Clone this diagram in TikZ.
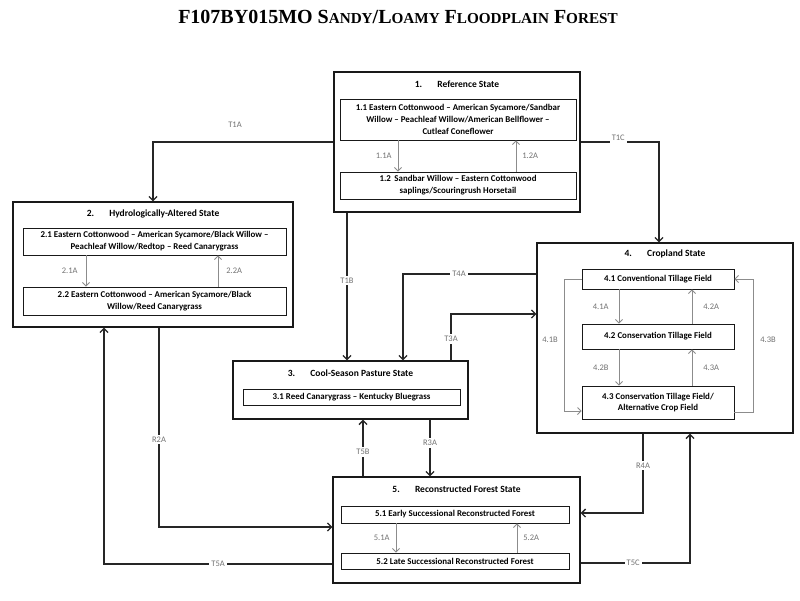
\documentclass[tikz,border=0pt]{standalone}
\usepackage{fontspec}
\setmainfont{Carlito}
\newfontfamily\titlefont{Liberation Serif}
\usetikzlibrary{arrows.meta}
\tikzset{
  box/.style={draw=black!90, rectangle, inner sep=0pt, line width=1.3pt},
  sub/.style={draw=black!90, rectangle, inner sep=1pt, line width=0.9pt, align=center,
    font=\fontsize{8.9}{11.8}\selectfont\bfseries},
  ttl/.style={font=\fontsize{9.5}{11}\selectfont\bfseries},
  conn/.style={line width=1.3pt, draw=black!85, -{Straight Barb[length=4pt,width=8pt]}},
  inarr/.style={line width=0.8pt, draw=black!45, -{Straight Barb[length=3.5pt,width=7pt]}},
  lbl/.style={font=\fontsize{8.5}{10}\selectfont, text=black!55, fill=white, inner sep=2pt},
  lbln/.style={font=\fontsize{8.5}{10}\selectfont, text=black!55, inner sep=1pt}
}
\newcommand{\smc}[1]{{\fontsize{15.2}{18}\selectfont #1}}
\begin{document}
\begin{tikzpicture}[x=1pt,y=-1pt]
\useasboundingbox[fill=white] (0,0) rectangle (800,600);

% title
\node[font=\titlefont\bfseries\fontsize{20}{23}\selectfont] (title) at (398,17)
  {F107BY015MO S\smc{ANDY}/L\smc{OAMY} F\smc{LOODPLAIN} F\smc{OREST}};

% ---------- State 1 ----------
\node[box, minimum width=246pt, minimum height=140pt] (s1) at (457,142) {};
\node[ttl] (t1) at (457,84) {1.\hspace{1.6em}Reference State};
\node[sub, minimum width=236pt, minimum height=41pt] (n11) at (458,119.5)
  {1.1 Eastern Cottonwood -- American Sycamore/Sandbar\\Willow -- Peachleaf Willow/American Bellflower --\\Cutleaf Coneflower};
\node[sub, minimum width=236pt, minimum height=27pt] (n12) at (458,185.5)
  {1.2\, Sandbar Willow -- Eastern Cottonwood\\saplings/Scouringrush Horsetail};
\draw[inarr] ([xshift=-60]n11.south) -- ([xshift=-60]n12.north)
  node[lbln, midway, left=5pt] (l11a) {1.1A};
\draw[inarr] ([xshift=58]n12.north) -- ([xshift=58]n11.south)
  node[lbln, midway, right=5pt] (l12a) {1.2A};

% ---------- State 2 ----------
\node[box, minimum width=280pt, minimum height=125pt] (s2) at (153,264.5) {};
\node[ttl] (t2) at (153,214) {2.\hspace{1.6em}Hydrologically-Altered State};
\node[sub, minimum width=263pt, minimum height=27pt] (n21) at (154.5,241.5)
  {2.1 Eastern Cottonwood -- American Sycamore/Black Willow --\\Peachleaf Willow/Redtop -- Reed Canarygrass};
\node[sub, minimum width=263pt, minimum height=28pt] (n22) at (154.5,301)
  {2.2 Eastern Cottonwood -- American Sycamore/Black\\Willow/Reed Canarygrass};
\draw[inarr] ([xshift=-68.5]n21.south) -- ([xshift=-68.5]n22.north)
  node[lbln, midway, left=7pt] (l21a) {2.1A};
\draw[inarr] ([xshift=63.5]n22.north) -- ([xshift=63.5]n21.south)
  node[lbln, midway, right=7pt] (l22a) {2.2A};

% ---------- State 3 ----------
\node[box, minimum width=235pt, minimum height=58pt] (s3) at (350.5,390) {};
\node[ttl] (t3) at (350.5,373) {3.\hspace{1.6em}Cool-Season Pasture State};
\node[sub, minimum width=217pt, minimum height=16pt] (n31) at (351.5,397)
  {3.1 Reed Canarygrass -- Kentucky Bluegrass};

% ---------- State 4 ----------
\node[box, minimum width=256pt, minimum height=190pt] (s4) at (665,338) {};
\node[ttl] (t4) at (665,254) {4.\hspace{1.6em}Cropland State};
\node[sub, minimum width=152pt, minimum height=20pt] (n41) at (658,279)
  {4.1 Conventional Tillage Field};
\node[sub, minimum width=152pt, minimum height=25pt] (n42) at (658,336.5)
  {4.2 Conservation Tillage Field};
\node[sub, minimum width=152pt, minimum height=33pt] (n43) at (658,402.5)
  {4.3 Conservation Tillage Field/\\Alternative Crop Field};
\draw[inarr] ([xshift=-39]n41.south) -- ([xshift=-39]n42.north)
  node[lbln, midway, left=9pt] (l41a) {4.1A};
\draw[inarr] ([xshift=34]n42.north) -- ([xshift=34]n41.south)
  node[lbln, midway, right=10pt] (l42a) {4.2A};
\draw[inarr] ([xshift=-39]n42.south) -- ([xshift=-39]n43.north)
  node[lbln, midway, left=9pt] (l42b) {4.2B};
\draw[inarr] ([xshift=34]n43.north) -- ([xshift=34]n42.south)
  node[lbln, midway, right=10pt] (l43a) {4.3A};
\draw[inarr] (n41.west) -- ++(-17,0) |- ([yshift=-8.5]n43.west);
\node[lbln] (l41b) at (550,340) {4.1B};
\draw[inarr] ([yshift=-10]n43.east) -- ++(19,0) |- (n41.east);
\node[lbln] (l43b) at (768,340) {4.3B};

% ---------- State 5 ----------
\node[box, minimum width=247pt, minimum height=106pt] (s5) at (456.5,530) {};
\node[ttl] (t5) at (456.5,489) {5.\hspace{1.6em}Reconstructed Forest State};
\node[sub, minimum width=228pt, minimum height=17pt] (n51) at (455,514.5)
  {5.1 Early Successional Reconstructed Forest};
\node[sub, minimum width=228pt, minimum height=16pt] (n52) at (455,561)
  {5.2 Late Successional Reconstructed Forest};
\draw[inarr] ([xshift=-59]n51.south) -- ([xshift=-59]n52.north)
  node[lbln, midway, left=5pt] (l51a) {5.1A};
\draw[inarr] ([xshift=62]n52.north) -- ([xshift=62]n51.south)
  node[lbln, midway, right=5pt] (l52a) {5.2A};

% ---------- Transitions ----------
\draw[conn] (s1.west) -| (s2.north);
\node[lbln] (lt1a) at (235,125) {T1A};
\draw[conn] ([xshift=-110]s1.south) -- ([xshift=-3.5]s3.north)
  node[lbl, pos=0.46] (lt1b) {T1B};
\draw[conn] (s1.east) -| ([xshift=-6]s4.north)
  node[lbl, pos=0.24, yshift=4pt] (lt1c) {T1C};
\draw[conn] ([yshift=64]s4.west) -| ([xshift=52.5]s3.north)
  node[lbl, pos=0.29] (lt4a) {T4A};
\draw[conn] ([xshift=100.5]s3.north) |- ([yshift=24]s4.west)
  node[lbl, pos=0.23] (lt3a) {T3A};
\draw[conn] ([xshift=6]s2.south) |- ([yshift=3]s5.west)
  node[lbl, pos=0.28] (lr2a) {R2A};
\draw[conn] ([yshift=-34]s5.west) -| ([xshift=-49]s2.south)
  node[lbl, pos=0.25] (lt5a) {T5A};
\draw[conn] ([xshift=-93.5]s5.north) -- ([xshift=12.5]s3.south)
  node[lbl, pos=0.43] (lt5b) {T5B};
\draw[conn] ([xshift=79.5]s3.south) -- ([xshift=-26.5]s5.north)
  node[lbl, pos=0.41] (lr3a) {R3A};
\draw[conn] ([xshift=-22]s4.south) |- ([yshift=17]s5.east)
  node[lbl, pos=0.2] (lr4a) {R4A};
\draw[conn] ([yshift=-33]s5.east) -| ([xshift=25]s4.south)
  node[lbl, pos=0.24] (lt5c) {T5C};
\end{tikzpicture}
\end{document}
